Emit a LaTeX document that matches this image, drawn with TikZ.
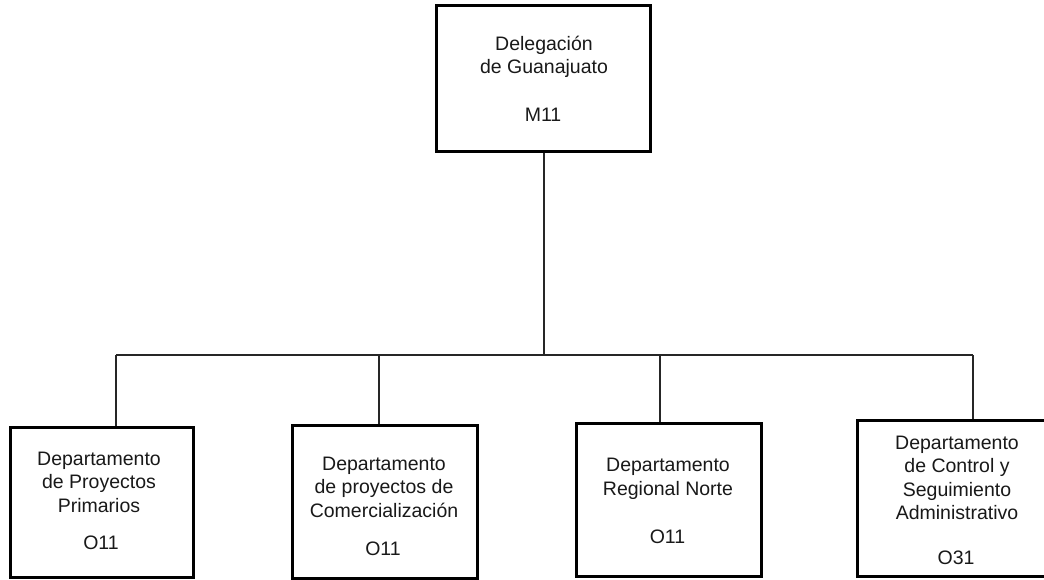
\documentclass[tikz,border=0pt]{standalone}
\usepackage{fontspec}
\setmainfont{Liberation Sans}
\begin{document}
\begin{tikzpicture}[x=1pt,y=-1pt,
  unitbox/.style={draw=black, line width=3pt, fill=white, inner sep=0pt},
  link/.style={draw=black!85, line width=2pt},
  label/.style={align=center, inner sep=0pt, text=black!90,
    font=\fontsize{19.5}{23.5}\selectfont},
]
\clip (0,0) rectangle (1044,579);
\fill[white] (0,0) rectangle (1044,579);

% organisational units
\node[unitbox, minimum width=214pt, minimum height=146pt] (top) at (543,78) {};
\node[unitbox, minimum width=183pt, minimum height=150pt] (d1) at (101.5,502) {};
\node[unitbox, minimum width=185pt, minimum height=153pt] (d2) at (384.5,501.5) {};
\node[unitbox, minimum width=185pt, minimum height=153pt] (d3) at (668.5,499.5) {};
\node[unitbox, minimum width=203pt, minimum height=156pt] (d4) at (958.5,498) {};

% names and codes
\node[label] (t0) at (544,57) {Delegación\\de Guanajuato};
\node[label] (c0) at (543,115) {M11};
\node[label] (t1) at (99,482) {Departamento\\de Proyectos\\Primarios};
\node[label] (c1) at (101,543) {O11};
\node[label] (t2) at (384,487) {Departamento\\de proyectos de\\Comercialización};
\node[label] (c2) at (383,549) {O11};
\node[label] (t3) at (668,479) {Departamento\\Regional Norte};
\node[label] (c3) at (667.5,537) {O11};
\node[label] (t4) at (957,478) {Departamento\\de Control y\\Seguimiento\\Administrativo};
\node[label] (c4) at (956,558) {O31};

% branching bus
\coordinate (b1) at (116,355);
\coordinate (b2) at (379,355);
\coordinate (b3) at (660,355);
\coordinate (b4) at (973,355);
\coordinate (bt) at (544,355);

\draw[link] (b1) -- (b4);
\draw[link] (top.south -| bt) -- (bt);
\draw[link] (b1) -- (b1 |- d1.north);
\draw[link] (b2) -- (b2 |- d2.north);
\draw[link] (b3) -- (b3 |- d3.north);
\draw[link] (b4) -- (b4 |- d4.north);
\end{tikzpicture}
\end{document}
